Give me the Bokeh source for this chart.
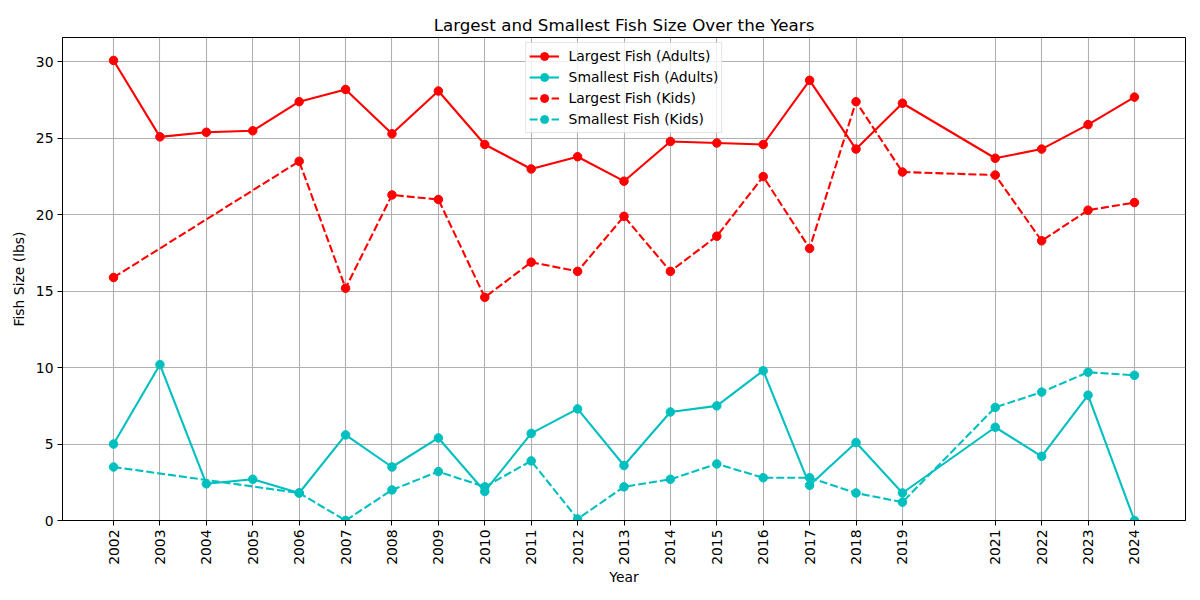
import math
from bokeh.plotting import figure
from bokeh.models import FixedTicker, Range1d, ColumnDataSource
from bokeh.embed import file_html
from bokeh.resources import INLINE

years_adults = [2002, 2003, 2004, 2005, 2006, 2007, 2008, 2009, 2010, 2011, 2012,
                2013, 2014, 2015, 2016, 2017, 2018, 2019, 2021, 2022, 2023, 2024]
largest_adults = [30.1, 25.1, 25.4, 25.5, 27.4, 28.2, 25.3, 28.1, 24.6, 23.0, 23.8,
                  22.2, 24.8, 24.7, 24.6, 28.8, 24.3, 27.3, 23.7, 24.3, 25.9, 27.7]
smallest_adults = [5.0, 10.2, 2.4, 2.7, 1.8, 5.6, 3.5, 5.4, 1.9, 5.7, 7.3,
                   3.6, 7.1, 7.5, 9.8, 2.3, 5.1, 1.8, 6.1, 4.2, 8.2, 0.0]

years_kids = [2002, 2006, 2007, 2008, 2009, 2010, 2011, 2012, 2013, 2014, 2015,
              2016, 2017, 2018, 2019, 2021, 2022, 2023, 2024]
largest_kids = [15.9, 23.5, 15.2, 21.3, 21.0, 14.6, 16.9, 16.3, 19.9, 16.3, 18.6,
                22.5, 17.8, 27.4, 22.8, 22.6, 18.3, 20.3, 20.8]
smallest_kids = [3.5, 1.8, 0.0, 2.0, 3.2, 2.2, 3.9, 0.1, 2.2, 2.7, 3.7,
                 2.8, 2.8, 1.8, 1.2, 7.4, 8.4, 9.7, 9.5]

tick_years = years_adults
y_ticks = [0, 5, 10, 15, 20, 25, 30]

FONT = "DejaVu Sans"
RED = "#ff0000"
CYAN = "#00bfbf"

p = figure(width=1200, height=600, output_backend="svg", toolbar_location=None,
           title="Largest and Smallest Fish Size Over the Years",
           x_range=Range1d(2000.9, 2025.1), y_range=Range1d(0, 31.6),
           min_border_left=62, min_border_right=15, min_border_top=37, min_border_bottom=80)

p.title.align = "center"
p.title.text_font = FONT
p.title.text_font_size = "16.7px"
p.title.text_font_style = "normal"
p.title.text_color = "black"
p.title.standoff = 6

p.outline_line_color = "black"
p.outline_line_width = 1
p.outline_line_alpha = 1

p.xaxis.ticker = FixedTicker(ticks=tick_years)
p.yaxis.ticker = FixedTicker(ticks=y_ticks)
p.xaxis.major_label_orientation = math.pi / 2
p.xaxis.axis_label = "Year"
p.yaxis.axis_label = "Fish Size (lbs)"

for ax in (p.xaxis, p.yaxis):
    ax.axis_label_text_font = FONT
    ax.axis_label_text_font_size = "13.9px"
    ax.axis_label_text_font_style = "normal"
    ax.axis_label_text_color = "black"
    ax.major_label_text_font = FONT
    ax.major_label_text_font_size = "13.9px"
    ax.major_label_text_color = "black"
    ax.axis_line_color = "black"
    ax.major_tick_line_color = "black"
    ax.major_tick_out = 5
    ax.major_tick_in = 0
    ax.minor_tick_line_color = None
    ax.major_label_standoff = 4
p.xaxis.axis_label_standoff = 1
p.yaxis.axis_label_standoff = 6

p.xgrid.grid_line_color = "#b0b0b0"
p.ygrid.grid_line_color = "#b0b0b0"
p.xgrid.grid_line_width = 1.1
p.ygrid.grid_line_width = 1.1

src_a = ColumnDataSource(dict(x=years_adults, big=largest_adults, small=smallest_adults))
src_k = ColumnDataSource(dict(x=years_kids, big=largest_kids, small=smallest_kids))

series = [
    (src_a, "big", RED, "solid", "Largest Fish (Adults)"),
    (src_a, "small", CYAN, "solid", "Smallest Fish (Adults)"),
    (src_k, "big", RED, "8 3", "Largest Fish (Kids)"),
    (src_k, "small", CYAN, "8 3", "Smallest Fish (Kids)"),
]
for src, col, color, dash, lab in series:
    p.line("x", col, source=src, line_color=color, line_width=2.1, line_dash=dash, legend_label=lab)
    p.scatter("x", col, source=src, size=8.5, fill_color=color, line_color=color, legend_label=lab)

lg = p.legend[0]
lg.location = "top_center"
lg.margin = 5
lg.label_text_font = FONT
lg.label_text_font_size = "13.9px"
lg.label_text_color = "black"
lg.border_line_color = "#cccccc"
lg.border_line_width = 1
lg.background_fill_alpha = 0.8
lg.glyph_width = 30
lg.glyph_height = 20
lg.label_height = 20
lg.spacing = 1
lg.padding = 3
lg.label_standoff = 10

open("out.html", "w").write(file_html(p, INLINE))
